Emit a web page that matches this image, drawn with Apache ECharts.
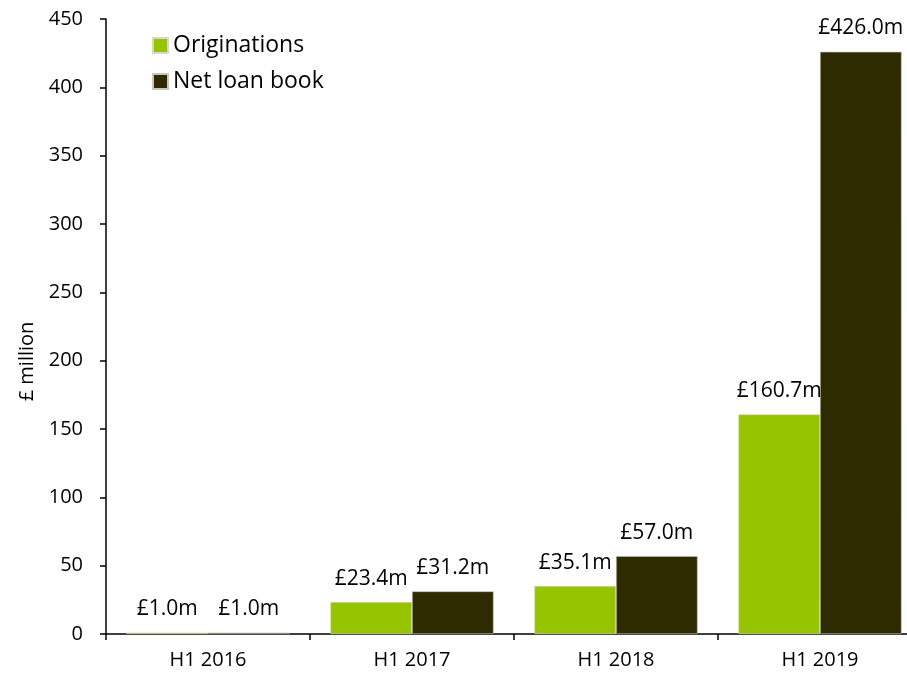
<!DOCTYPE html>
<html>
<head>
<meta charset="utf-8">
<script src="https://cdn.jsdelivr.net/npm/echarts@6/dist/echarts.min.js"></script>
<style>
  html, body { margin: 0; padding: 0; background: #fff; }
  #chart { width: 907px; height: 677px; }
</style>
</head>
<body>
<div id="chart"></div>
<script>
// Half-year periods on the category axis
const periods = ['H1 2016', 'H1 2017', 'H1 2018', 'H1 2019'];
// Values in £ million
const originations = [1.0, 23.4, 35.1, 160.7];
const netLoanBook = [1.0, 31.2, 57.0, 426.0];
// Value axis ticks
const yTicks = [0, 50, 100, 150, 200, 250, 300, 350, 400, 450];

const FONT = '"Open Sans", Lato, sans-serif';

const chart = echarts.init(document.getElementById('chart'), null, { renderer: 'canvas' });

const labelStyle = {
  show: true,
  position: 'top',
  distance: 13,
  color: '#000',
  fontSize: 21,
  fontFamily: FONT,
  formatter: p => '£' + p.value.toFixed(1) + 'm'
};

chart.setOption({
  animation: false,
  backgroundColor: '#fff',
  // the category axis runs a little past the right edge of the canvas
  grid: { left: 106, top: 19, width: 816, bottom: 43, containLabel: false, outerBoundsMode: 'none' },
  legend: {
    orient: 'vertical',
    left: 147,
    top: 29,
    itemWidth: 15,
    itemHeight: 15,
    itemGap: 13,
    icon: 'rect',
    textStyle: { color: '#000', fontSize: 23, fontFamily: FONT },
    data: ['Originations', 'Net loan book']
  },
  xAxis: {
    type: 'category',
    data: periods,
    boundaryGap: true,
    axisLine: { show: true, lineStyle: { color: '#000', width: 1.5 } },
    axisTick: { show: true, alignWithLabel: false, length: 6, lineStyle: { color: '#000', width: 1.5 } },
    axisLabel: { color: '#000', fontSize: 20, fontFamily: FONT, margin: 16 },
    splitLine: { show: false }
  },
  yAxis: {
    type: 'value',
    min: yTicks[0],
    max: yTicks[yTicks.length - 1],
    interval: yTicks[1] - yTicks[0],
    name: '£ million',
    nameLocation: 'middle',
    nameGap: 67,
    nameRotate: 90,
    nameTextStyle: { color: '#000', fontSize: 20, fontFamily: FONT, padding: [0, 70, 0, 0] },
    axisLine: { show: true, lineStyle: { color: '#000', width: 1.5 } },
    axisTick: { show: true, length: 6, lineStyle: { color: '#000', width: 1.5 } },
    axisLabel: { color: '#000', fontSize: 20, fontFamily: FONT, margin: 23 },
    splitLine: { show: false }
  },
  series: [
    {
      name: 'Originations',
      type: 'bar',
      data: originations,
      barGap: '0%',
      barCategoryGap: '20%',
      itemStyle: { color: '#97C400', borderColor: '#d8d8c8', borderWidth: 0.6 },
      label: labelStyle
    },
    {
      name: 'Net loan book',
      type: 'bar',
      data: netLoanBook,
      barGap: '0%',
      barCategoryGap: '20%',
      itemStyle: { color: '#2E2B00', borderColor: '#c8c8b8', borderWidth: 0.6 },
      label: labelStyle
    }
  ]
});
</script>
</body>
</html>
